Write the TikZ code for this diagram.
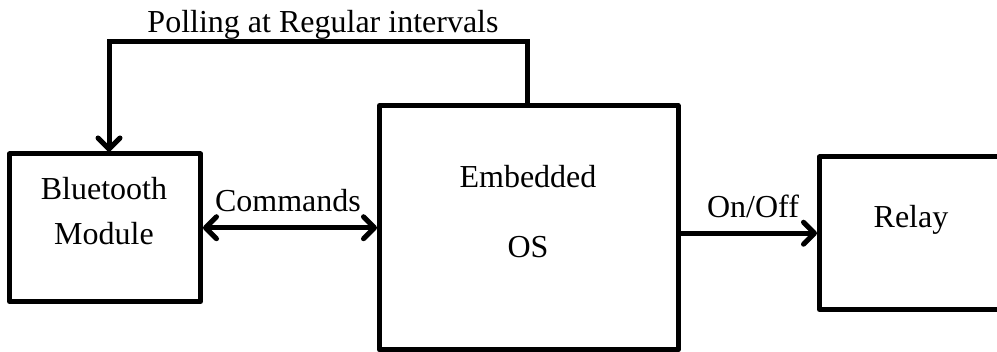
\documentclass[tikz,border=0pt]{standalone}
\usepackage{fontspec}
\setmainfont{Liberation Serif}
\usetikzlibrary{arrows.meta}
\begin{document}
\begin{tikzpicture}[x=1pt,y=-1pt,
  box/.style={draw,line width=5pt,line join=round,inner sep=0pt},
  lbl/.style={font=\fontsize{32}{38}\selectfont,anchor=base,inner sep=0pt},
  conn/.style={line width=5pt,-{Straight Barb[length=11pt,width=22pt,line cap=round,line join=round]}},
  biconn/.style={line width=5pt,{Straight Barb[length=11pt,width=22pt,line cap=round,line join=round]}-{Straight Barb[length=11pt,width=22pt,line cap=round,line join=round]}}
]
\useasboundingbox (0,0) rectangle (997,352);
\clip (0,0) rectangle (997,352);
\fill[white] (0,0) rectangle (997,352);

\node[box,minimum width=191pt,minimum height=147.5pt] (bt) at (105,227.75) {};
\node[box,minimum width=298.5pt,minimum height=244.5pt] (emb) at (528.75,227.75) {};
\node[box,minimum width=200pt,minimum height=152.5pt] (relay) at (919.5,233.25) {};
\coordinate (top) at (0,42);

\node[lbl] (tb1) at (104,200) {Bluetooth};
\node[lbl] (tb2) at (104,245) {Module};
\node[lbl] (te1) at (528,188) {Embedded};
\node[lbl] (te2) at (528,258) {OS};
\node[lbl] (tr) at (911,228) {Relay};

\draw[conn] ([xshift=-1.25pt]emb.north) -- ([xshift=-1.25pt]emb.north |- top) -| ([xshift=4pt]bt.north);
\draw[biconn] (bt.east) -- (emb.west);
\draw[conn] (emb.east |- relay.west) -- (relay.west);

\node[lbl] (lpoll) at (323,33) {Polling at Regular intervals};
\node[lbl] (lcmd) at (288,212) {Commands};
\node[lbl] (lonoff) at (753,218) {On/Off};
\end{tikzpicture}
\end{document}
